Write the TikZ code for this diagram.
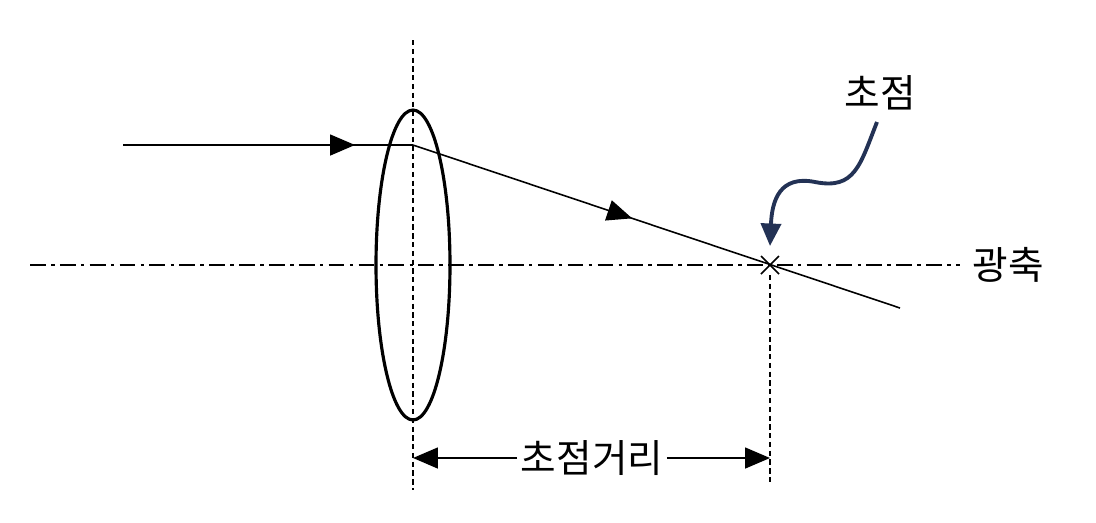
\documentclass[tikz,border=0pt]{standalone}
\usepackage{fontspec}
\newfontfamily\kr{Noto Sans CJK KR}
\usetikzlibrary{arrows.meta,decorations.markings,shapes.geometric}
\begin{document}
\begin{tikzpicture}[x=0.02cm,y=-0.02cm,
  guide/.style={densely dashed,line width=0.8pt},
  ray/.style={line width=0.9pt},
  tri/.style={-{Triangle[length=0.5cm,width=0.42cm]}},
  lbl/.style={font=\kr\fontsize{22}{26}\selectfont,inner sep=2pt}]
\useasboundingbox (0,0) rectangle (1096,522);
% guides
\coordinate (lt) at (413,40); \coordinate (lb) at (413,490);
\draw[guide] (lt) -- (lb);
\coordinate (ft) at (770,275); \coordinate (fb) at (770,485);
\draw[guide] (ft) -- (fb);
\coordinate (ax1) at (30,265); \coordinate (ax2) at (960,265);
\draw[line width=0.8pt,dash pattern=on 9pt off 3pt on 2pt off 3pt] (ax1) -- (ax2);
% lens
\node[draw,line width=1.8pt,ellipse,minimum width=1.48cm,minimum height=6.2cm,inner sep=0] (lens) at (413,265) {};
% rays
\coordinate (s) at (123,145); \coordinate (h) at (413,145); \coordinate (e) at (900,308);
\draw[ray,decoration={markings,mark=at position 0.8 with {\arrow{Triangle[length=0.5cm,width=0.42cm]}}},postaction=decorate] (s) -- (h);
\draw[ray,decoration={markings,mark=at position 0.45 with {\arrow{Triangle[length=0.5cm,width=0.42cm]}}},postaction=decorate] (h) -- (e);
% focus cross
\coordinate (F) at (770,265);
\draw[line width=0.9pt] (761,256) -- (779,274) (761,274) -- (779,256);
% dimension
\node[lbl] (fl) at (592,458) {초점거리};
\coordinate (d1) at (413,458); \coordinate (d2) at (770,458);
\draw[ray,tri] (fl.west) -- (d1);
\draw[ray,tri] (fl.east) -- (d2);
% labels
\node[lbl] (fo) at (880,93) {초점};
\node[lbl] (ax) at (1008,265) {광축};
\coordinate (tip) at (770,246);
\draw[line width=2.2pt,color={rgb,255:red,35;green,50;blue,85},-{Triangle[length=0.45cm,width=0.4cm]}]
  (877,122) .. controls (860,165) and (855,190) .. (815,182)
  .. controls (780,175) and (772,200) .. (tip);
\end{tikzpicture}
\end{document}
